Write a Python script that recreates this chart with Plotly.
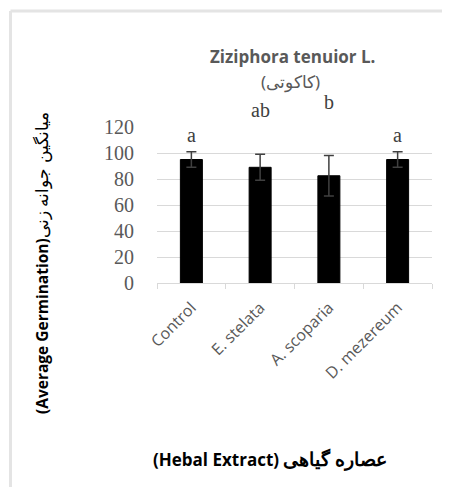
import plotly.graph_objects as go

categories = ["Control", "E. stelata", "A. scoparia", "D. mezereum"]
means = [95, 89, 82.5, 95]
errors = [6, 10, 15.5, 6]
letters = ["a", "ab", "b", "a"]
y_ticks = [0, 20, 40, 60, 80, 100, 120]

title_text = "Ziziphora tenuior L."
subtitle_text = "(کاکوتی)"
y_title = "<b>(Average Germination)</b><span style='font-size:17px'>میانگین جوانه زنی</span>"
x_title = "<b>(Hebal Extract) <span style='font-size:18.5px'>عصاره گیاهی</span></b>"

Y_MAX = 120
# letter heights above bars (label placement, in data units)
letter_y = {"a": 114, "ab": 133, "b": 139}

OFF = 8  # page body margin
W, H = 435, 480
L, T = 149, 119
PW, PH = 275, 156
R, B = W - L - PW, H - T - PH


def px(x):
    return (x - OFF - L) / PW


def py(y):
    return (H - B - (y - OFF)) / PH


fig = go.Figure()
fig.add_trace(go.Bar(
    x=categories, y=means,
    width=0.32,
    marker=dict(color="black", line=dict(color="black", width=1)),
    error_y=dict(type="data", array=errors, visible=True,
                 color="#404040", thickness=1.5, width=5),
))

for c, l in zip(categories, letters):
    fig.add_annotation(x=c, y=letter_y[l] / Y_MAX, text=l, showarrow=False,
                       xref="x", yref="paper", xanchor="center", yanchor="middle",
                       font=dict(family="Liberation Serif", size=20, color="#404040"))


def note(x, y, text, font, angle=0):
    fig.add_annotation(x=px(x), y=py(y), xref="paper", yref="paper", text=text,
                       showarrow=False, xanchor="center", yanchor="middle",
                       textangle=angle, font=font)


note(292, 56, "<b>" + title_text + "</b>", dict(family="Open Sans", size=17, color="#595959"))
note(290, 82, subtitle_text, dict(family="Noto Sans", size=17, color="#595959"))
note(41, 263, y_title, dict(family="Open Sans", size=15.5, color="black"), angle=-90)
note(270, 458, x_title, dict(family="Open Sans", size=17, color="black"))

# outer light frame (left and top edges visible), kept inside the figure
frame = dict(color="#e4e4e4", width=3)
fig.add_shape(type="line", xref="paper", yref="paper",
              x0=px(10.5), x1=px(10.5), y0=py(11), y1=py(487), line=frame, layer="below")
fig.add_shape(type="line", xref="paper", yref="paper",
              x0=px(10.5), x1=px(442), y0=py(11), y1=py(11), line=frame, layer="below")

fig.update_layout(
    width=W, height=H,
    margin=dict(l=L, r=R, t=T, b=B, autoexpand=False),
    paper_bgcolor="white", plot_bgcolor="white",
    showlegend=False,
    xaxis=dict(
        automargin=False,
        tickangle=-45,
        tickfont=dict(family="Open Sans", size=16, color="#595959"),
        showline=True, linecolor="#d9d9d9", linewidth=1,
        ticks="outside", ticklen=5, tickcolor="#d9d9d9",
        tickson="boundaries",
        ticklabelstandoff=8,
        showgrid=False,
    ),
    yaxis=dict(
        automargin=False,
        range=[0, Y_MAX],
        tickvals=y_ticks,
        tickfont=dict(family="Liberation Serif", size=20, color="#595959"),
        showgrid=True, gridcolor="#d9d9d9", gridwidth=1,
        zeroline=False, showline=False, ticks="",
        ticklabelstandoff=22,
    ),
)

fig.write_html("out.html")
